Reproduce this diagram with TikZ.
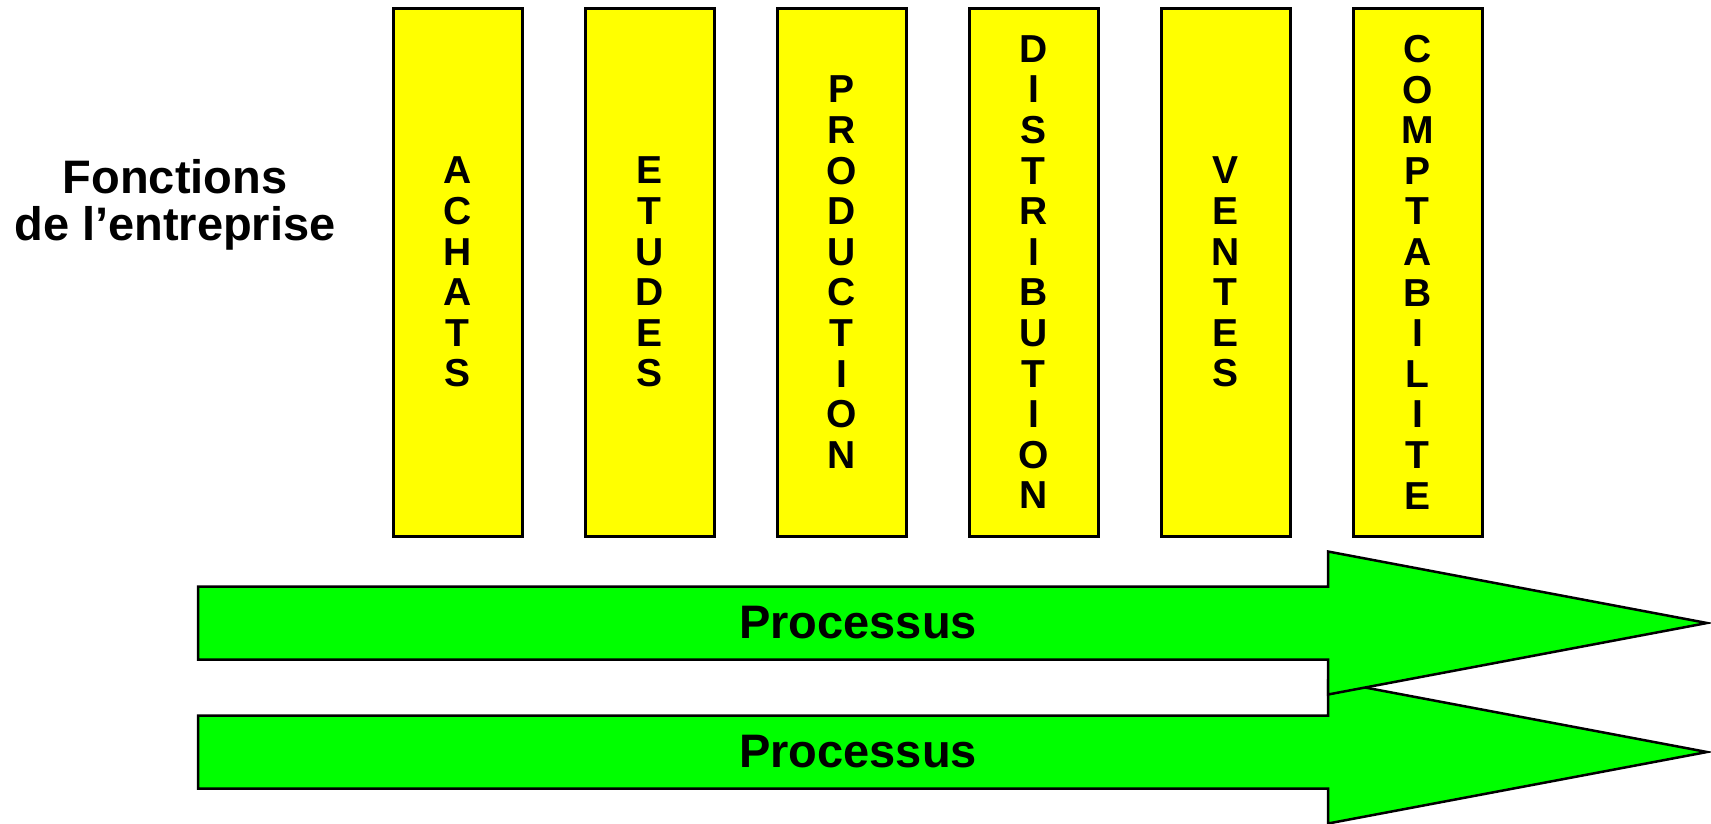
\documentclass[tikz,border=0pt]{standalone}
\usepackage{fontspec}
\setmainfont{Liberation Sans}
\definecolor{jaune}{RGB}{255,255,0}
\definecolor{vert}{RGB}{0,255,0}

\begin{document}
\begin{tikzpicture}[x=1pt,y=-1pt,line width=2.5pt]
    \tikzstyle{fonction}=[rectangle,draw=black,fill=jaune,minimum width=129pt,minimum height=528pt,inner sep=0pt,anchor=north west,align=center,font=\fontsize{39}{40.6}\selectfont\bfseries]
    \tikzstyle{processus}=[draw=black,fill=vert,line join=miter]
    \tikzstyle{titre}=[align=center,inner sep=0pt,font=\fontsize{47}{47}\selectfont\bfseries]
    \useasboundingbox (0,0) rectangle (1711,823);

    \node[titre] (T) at (175,205) {Fonctions\\de l’entreprise};

    \foreach \num/\x/\txt in {1/392/{A\\C\\H\\A\\T\\S}, 2/584/{E\\T\\U\\D\\E\\S},
            3/776/{P\\R\\O\\D\\U\\C\\T\\I\\O\\N}, 4/968/{D\\I\\S\\T\\R\\I\\B\\U\\T\\I\\O\\N},
            5/1160/{V\\E\\N\\T\\E\\S}, 6/1352/{C\\O\\M\\P\\T\\A\\B\\I\\L\\I\\T\\E}}
        \node[fonction] (F-\num) at (\x,7) {\txt};

    % second arrow first, the top one overlaps it
    \foreach \num/\y in {2/752, 1/623}
    {
        \draw[processus] (198,\y-36.5) -- (1328,\y-36.5) -- (1328,\y-71.5) -- (1707,\y)
            -- (1328,\y+71.5) -- (1328,\y+36.5) -- (198,\y+36.5) -- cycle;
        \node[titre] (P-\num) at (858,\y) {Processus};
    }
\end{tikzpicture}
\end{document}
